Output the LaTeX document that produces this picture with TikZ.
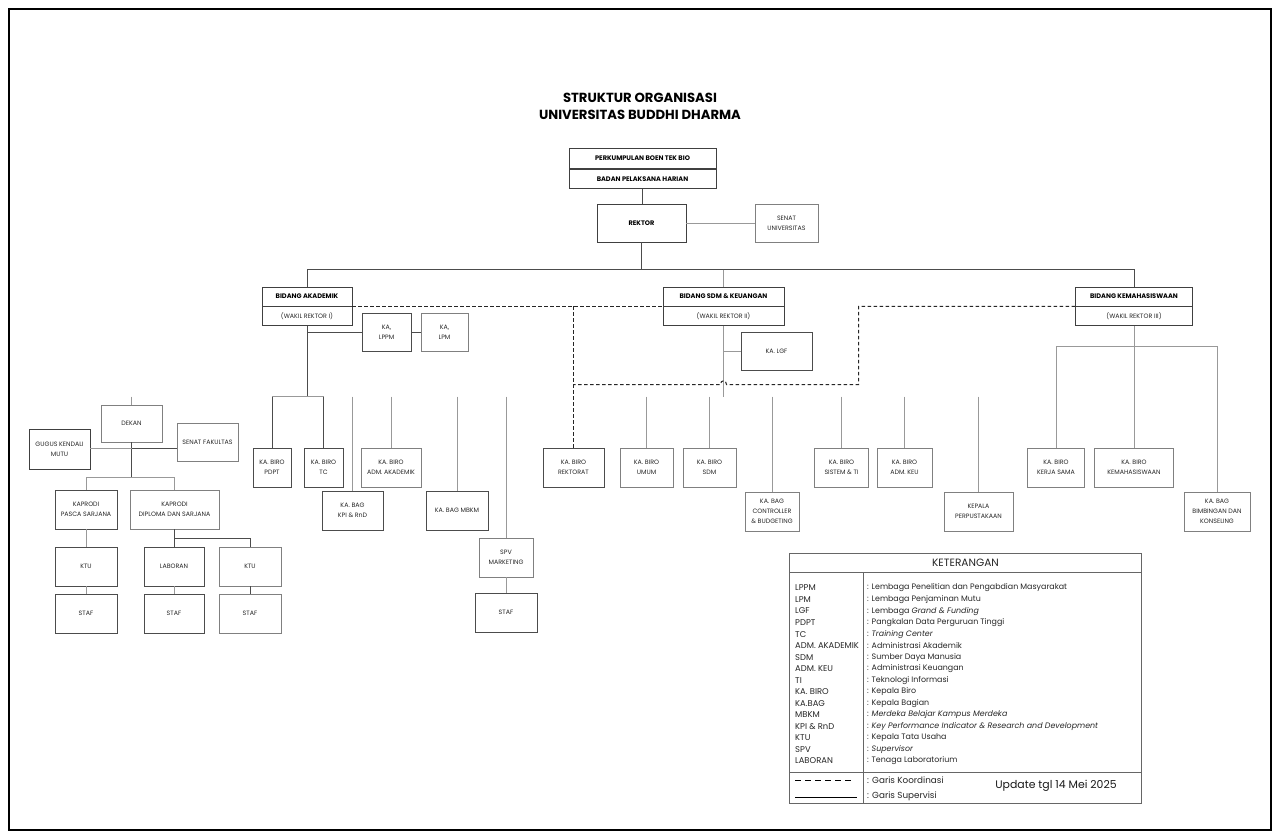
\documentclass[tikz,border=0pt]{standalone}
\usepackage{fontspec}
\setmainfont{Poppins}
\begin{document}
\begin{tikzpicture}[x=1pt,y=-1pt,
  bx/.style={draw=black!50, line width=0.8pt, inner sep=0pt, align=center, font=\fontsize{6.3}{9.8}\selectfont, text=black!85},
  hb/.style={draw=black!75, line width=0.8pt, inner sep=0pt, align=center, font=\fontsize{6.6}{9.8}\selectfont\bfseries, text=black},
  ln/.style={draw=black!70, line width=0.9pt},
  lnl/.style={draw=black!40, line width=0.9pt},
  dsh/.style={draw=black!85, line width=1pt, dash pattern=on 3.5pt off 2.5pt},
  lg/.style={anchor=west, inner sep=0pt, font=\fontsize{7.9}{9}\selectfont, text=black!85},
]
\useasboundingbox (0,0) rectangle (1280,837);
\fill[white] (0,0) rectangle (1280,837);
\draw[line width=2.6pt] (9,9) rectangle (1271,830);

% title
\node[font=\fontsize{13.2}{17}\selectfont\bfseries, align=center] (title) at (640,106.5) {STRUKTUR ORGANISASI\\UNIVERSITAS BUDDHI DHARMA};

% top
\node[hb, minimum width=147, minimum height=19.5] (pk) at (642.5,158.5) {PERKUMPULAN BOEN TEK BIO};
\node[hb, minimum width=147, minimum height=19.5, anchor=north] (bph) at (pk.south) {BADAN PELAKSANA HARIAN};
\node[hb, minimum width=89, minimum height=38] (rektor) at (641.5,223) {REKTOR};
\node[bx, minimum width=63, minimum height=38] (senat) at (786.5,223) {SENAT\\UNIVERSITAS};

% bidang
\node[hb, minimum width=90, minimum height=19] (bidA) at (307,296.5) {BIDANG AKADEMIK};
\node[bx, draw=black!75, minimum width=90, minimum height=19, anchor=north] (bidAb) at (bidA.south) {(WAKIL REKTOR I)};
\node[hb, minimum width=121, minimum height=19] (bidS) at (723.5,296.5) {BIDANG SDM \& KEUANGAN};
\node[bx, draw=black!75, minimum width=121, minimum height=19, anchor=north] (bidSb) at (bidS.south) {(WAKIL REKTOR II)};
\node[hb, minimum width=117, minimum height=19] (bidK) at (1134,296.5) {BIDANG KEMAHASISWAAN};
\node[bx, draw=black!75, minimum width=117, minimum height=19, anchor=north] (bidKb) at (bidK.south) {(WAKIL REKTOR III)};

% academic
\node[bx, draw=black!70, minimum width=49, minimum height=38] (lppm) at (386.5,332) {KA,\\LPPM};
\node[bx, minimum width=47, minimum height=38] (lpm) at (444.5,332) {KA,\\LPM};
\node[bx, draw=black!70, minimum width=38, minimum height=39] (pdpt) at (272,467.5) {KA. BIRO\\PDPT};
\node[bx, draw=black!70, minimum width=39, minimum height=39] (tc) at (323.5,467.5) {KA. BIRO\\TC};
\node[bx, draw=black!70, minimum width=61, minimum height=39] (kpi) at (352.5,510.5) {KA. BAG\\KPI \& RnD};
\node[bx, minimum width=60, minimum height=39] (admak) at (391,467.5) {KA. BIRO\\ADM. AKADEMIK};
\node[bx, draw=black!70, minimum width=62, minimum height=39] (mbkm) at (457,510.5) {KA. BAG MBKM};
\node[bx, minimum width=54, minimum height=39] (spv) at (506,557.5) {SPV\\MARKETING};
\node[bx, draw=black!70, minimum width=62, minimum height=39] (stafS) at (506,612.5) {STAF};

% faculty
\node[bx, minimum width=61, minimum height=37] (dekan) at (131.5,423.5) {DEKAN};
\node[bx, draw=black!75, minimum width=61, minimum height=40] (gugus) at (59.5,449) {GUGUS KENDALI\\MUTU};
\node[bx, minimum width=61, minimum height=38] (senatF) at (207.5,442) {SENAT FAKULTAS};
\node[bx, draw=black!70, minimum width=62, minimum height=39] (kpasca) at (86,509.5) {KAPRODI\\PASCA SARJANA};
\node[bx, minimum width=89, minimum height=39] (kdip) at (174.5,509.5) {KAPRODI\\DIPLOMA DAN SARJANA};
\node[bx, draw=black!70, minimum width=62, minimum height=39] (ktu1) at (86,566.5) {KTU};
\node[bx, draw=black!70, minimum width=60, minimum height=39] (lab) at (174,566.5) {LABORAN};
\node[bx, minimum width=62, minimum height=39] (ktu2) at (250,566.5) {KTU};
\node[bx, draw=black!70, minimum width=62, minimum height=39] (staf1) at (86,613.5) {STAF};
\node[bx, draw=black!70, minimum width=60, minimum height=39] (staf2) at (174,613.5) {STAF};
\node[bx, minimum width=62, minimum height=39] (staf3) at (250,613.5) {STAF};

% sdm
\node[bx, draw=black!70, minimum width=71, minimum height=38] (lgf) at (776.5,351) {KA. LGF};
\node[bx, draw=black!70, minimum width=61, minimum height=39] (rekt) at (573.5,467.5) {KA. BIRO\\REKTORAT};
\node[bx, minimum width=53, minimum height=39] (umum) at (646.5,467.5) {KA. BIRO\\UMUM};
\node[bx, minimum width=53, minimum height=39] (sdm) at (709.5,467.5) {KA. BIRO\\SDM};
\node[bx, minimum width=54, minimum height=39] (ctrl) at (772,511.5) {KA. BAG\\CONTROLLER\\\& BUDGETING};
\node[bx, minimum width=54, minimum height=39] (sist) at (841.5,467.5) {KA. BIRO\\SISTEM \& TI};
\node[bx, minimum width=55, minimum height=39] (admkeu) at (904.5,467.5) {KA. BIRO\\ADM. KEU};
\node[bx, minimum width=69, minimum height=39] (perpus) at (978.5,511.5) {KEPALA\\PERPUSTAKAAN};

% kemahasiswaan
\node[bx, minimum width=57, minimum height=39] (kerja) at (1056,467.5) {KA. BIRO\\KERJA SAMA};
\node[bx, minimum width=79, minimum height=39] (kemah) at (1134,467.5) {KA. BIRO\\KEMAHASISWAAN};
\node[bx, minimum width=66, minimum height=39] (bimb) at (1217,511.5) {KA. BAG\\BIMBINGAN DAN\\KONSELING};

% ---- connectors (solid)
\coordinate (hbar) at (641.5,269.5);
\draw[ln] (bph.south) -- (bph.south |- rektor.north);
\draw[lnl] (rektor.east) -- (senat.west);
\draw[ln] (rektor.south) -- (rektor.south |- hbar);
\draw[ln] (bidA.north) |- (bidK.north |- hbar) -- (bidK.north);
\draw[lnl] (bidS.north |- hbar) -- (bidS.north);

% academic
\coordinate (aj) at (307,396.5);
\draw[ln] (bidAb.south) -- (aj);
\draw[ln] (lppm.west -| aj) -- (lppm.west);
\draw[ln] (lppm.east) -- (lpm.west);
\draw[lnl] (pdpt.north |- aj) -- (tc.north |- aj);
\draw[ln] (pdpt.north |- aj) -- (pdpt.north);
\draw[ln] (tc.north |- aj) -- (tc.north);
\draw[lnl] (kpi.north |- aj) -- (kpi.north);
\draw[lnl] (admak.north |- aj) -- (admak.north);
\draw[lnl] (mbkm.north |- aj) -- (mbkm.north);
\draw[lnl] (spv.north |- aj) -- (spv.north);
\draw[lnl] (spv.south) -- (stafS.north);

% faculty
\coordinate (dtop) at (131.5,396.5);
\coordinate (dj) at (131.5,448.5);
\coordinate (kj) at (131.5,477.5);
\coordinate (lj) at (174,538.5);
\draw[lnl] (dtop) -- (dekan.north);
\draw[ln] (dekan.south) -- (kj);
\draw[lnl] (gugus.east |- dj) -- (dj);
\draw[ln] (dj) -- (senatF.west |- dj);
\draw[lnl] (kpasca.north |- kj) -- (kdip.north |- kj);
\draw[lnl] (kpasca.north |- kj) -- (kpasca.north);
\draw[lnl] (kdip.north |- kj) -- (kdip.north);
\draw[lnl] (kpasca.south) -- (ktu1.north);
\draw[lnl] (ktu1.south) -- (staf1.north);
\draw[ln] (kdip.south) -- (kdip.south |- lj);
\draw[ln] (lab.north) |- (ktu2.north |- lj) -- (ktu2.north);
\draw[lnl] (lab.south) -- (staf2.north);
\draw[ln] (ktu2.south) -- (staf3.north);

% sdm
\coordinate (sj) at (723.5,396.5);
\draw[lnl] (bidSb.south) -- (sj);
\draw[lnl] (lgf.west -| sj) -- (lgf.west);
\foreach \n in {umum,sdm,ctrl,sist,admkeu,perpus}
  \draw[lnl] (\n.north |- sj) -- (\n.north);

% kemahasiswaan
\coordinate (kmj) at (1134,346.5);
\draw[lnl] (bidKb.south) -- (kemah.north);
\draw[lnl] (kerja.north) |- (bimb.north |- kmj) -- (bimb.north);

% ---- dashed coordination lines
\coordinate (dr) at (858.5,384.5);
\draw[dsh] (bidA.south east) -- (bidS.south west);
\draw[dsh] (rekt.north |- bidA.south) -- (rekt.north);
\draw[dsh] (bidK.south west) -| (dr) -- (726.5,384.5) .. controls (726.5,379.5) and (720.5,379.5) .. (720.5,384.5) -- (rekt.north |- dr);

% ---- legend
\coordinate (L1) at (789.5,553.5);
\coordinate (L2) at (1141.5,803.5);
\draw[draw=black!60, line width=0.8pt] (L1) rectangle (L2);
\draw[draw=black!60, line width=0.8pt] (789.5,572.5) -- (1141.5,572.5);
\draw[draw=black!60, line width=0.8pt] (789.5,772.5) -- (1141.5,772.5);
\draw[draw=black!60, line width=0.8pt] (863.5,572.5) -- (863.5,803.5);
\node[font=\fontsize{10.6}{11}\selectfont, text=black!85] (ket) at (965.5,562.5) {KETERANGAN};
\foreach \a/\d [count=\i] in {
  LPPM/{: Lembaga Penelitian dan Pengabdian Masyarakat},
  LPM/{: Lembaga Penjaminan Mutu},
  LGF/{: Lembaga \textit{Grand \& Funding}},
  PDPT/{: Pangkalan Data Perguruan Tinggi},
  TC/{: \textit{Training Center}},
  ADM. AKADEMIK/{: Administrasi Akademik},
  SDM/{: Sumber Daya Manusia},
  ADM. KEU/{: Administrasi Keuangan},
  TI/{: Teknologi Informasi},
  KA. BIRO/{: Kepala Biro},
  KA.BAG/{: Kepala Bagian},
  MBKM/{: \textit{Merdeka Belajar Kampus Merdeka}},
  KPI \& RnD/{: \textit{Key Performance Indicator \& Research and Development}},
  KTU/{: Kepala Tata Usaha},
  SPV/{: \textit{Supervisor}},
  LABORAN/{: Tenaga Laboratorium}}
{
  \node[lg, font=\fontsize{8.4}{9}\selectfont] (ab\i) at (795,{588+11.53*(\i-1)}) {\a};
  \node[lg] (de\i) at (867,{588+11.53*(\i-1)}) {\d};
}
\coordinate (ds1) at (795,780.5);
\coordinate (ds2) at (853,780.5);
\coordinate (ss1) at (795,797.5);
\coordinate (ss2) at (857,797.5);
\draw[line width=0.9pt, dash pattern=on 6pt off 4pt] (ds1) -- (ds2);
\draw[line width=0.9pt] (ss1) -- (ss2);
\node[lg, font=\fontsize{8.8}{9}\selectfont] (gk) at (867,780) {: Garis Koordinasi};
\node[lg, font=\fontsize{8.8}{9}\selectfont] (gs) at (867,796) {: Garis Supervisi};
\node[font=\fontsize{10.9}{11}\selectfont, text=black!90] (upd) at (1056,786) {Update tgl 14 Mei 2025};
\end{tikzpicture}
\end{document}
